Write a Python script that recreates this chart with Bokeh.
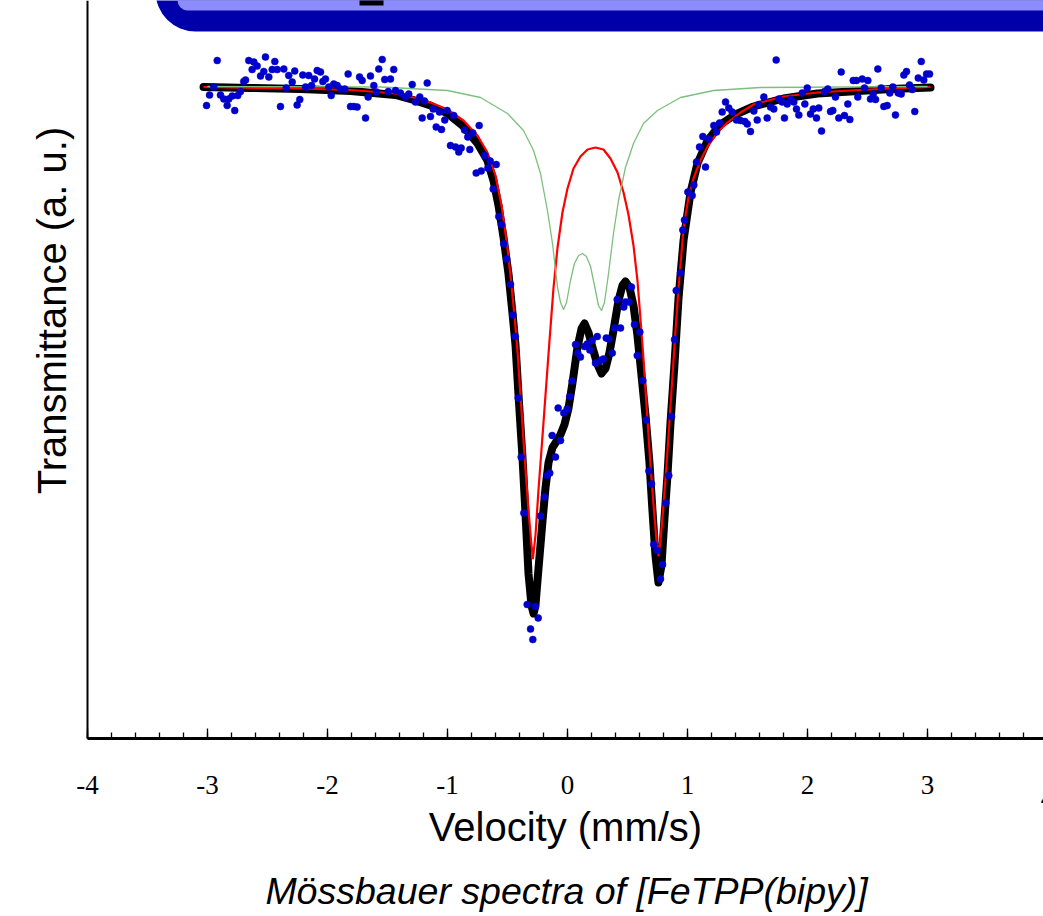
from bokeh.plotting import figure
from bokeh.models import Range1d, FixedTicker, Label, BoxAnnotation
from bokeh.embed import file_html
from bokeh.resources import INLINE

# ---- measured spectrum (velocity in mm/s, relative transmittance in %) ----
vel = [-3.008, -2.983, -2.948, -2.919, -2.892, -2.864, -2.836, -2.823, -2.794, -2.773,
       -2.748, -2.725, -2.698, -2.683, -2.656, -2.628, -2.614, -2.586, -2.558, -2.531,
       -2.517, -2.489, -2.461, -2.439, -2.419, -2.392, -2.364, -2.344, -2.323, -2.294,
       -2.273, -2.253, -2.231, -2.206, -2.183, -2.156, -2.133, -2.108, -2.086, -2.058,
       -2.039, -2.017, -1.989, -1.969, -1.948, -1.919, -1.892, -1.856, -1.828, -1.808,
       -1.781, -1.753, -1.733, -1.711, -1.683, -1.661, -1.642, -1.614, -1.592, -1.573,
       -1.544, -1.523, -1.494, -1.475, -1.448, -1.433, -1.392, -1.350, -1.323, -1.294,
       -1.267, -1.231, -1.211, -1.192, -1.169, -1.142, -1.119, -1.094, -1.067, -1.050,
       -1.023, -1.003, -0.975, -0.948, -0.933, -0.906, -0.886, -0.858, -0.831, -0.814,
       -0.789, -0.761, -0.736, -0.719, -0.689, -0.664, -0.644, -0.619, -0.594, -0.573,
       -0.550, -0.531, -0.508, -0.475, -0.456, -0.436, -0.411, -0.386, -0.364, -0.336,
       -0.308, -0.289, -0.267, -0.244, -0.225, -0.192, -0.169, -0.148, -0.128, -0.100,
       -0.078, -0.058, -0.031, -0.003, 0.019, 0.039, 0.067, 0.086, 0.108, 0.142,
       0.164, 0.186, 0.206, 0.233, 0.248, 0.275, 0.298, 0.323, 0.344, 0.373,
       0.392, 0.442, 0.414, 0.469, 0.483, 0.511, 0.533, 0.558, 0.581, 0.603,
       0.628, 0.656, 0.678, 0.700, 0.719, 0.748, 0.775, 0.792, 0.819, 0.844,
       0.867, 0.892, 0.906, 0.942, 0.961, 0.975, 1.003, 1.039, 1.053, 1.075,
       1.100, 1.128, 1.150, 1.178, 1.219, 1.242, 1.267, 1.289, 1.317, 1.344,
       1.372, 1.408, 1.442, 1.478, 1.498, 1.525, 1.553, 1.581, 1.594, 1.636,
       1.664, 1.692, 1.719, 1.739, 1.761, 1.789, 1.808, 1.831, 1.858, 1.886,
       1.908, 1.928, 1.956, 1.978, 1.998, 2.025, 2.048, 2.075, 2.094, 2.117,
       2.142, 2.169, 2.192, 2.211, 2.233, 2.261, 2.281, 2.308, 2.336, 2.353,
       2.381, 2.408, 2.419, 2.456, 2.475, 2.503, 2.525, 2.548, 2.567, 2.586,
       2.614, 2.636, 2.664, 2.686, 2.711, 2.733, 2.756, 2.781, 2.803, 2.825,
       2.850, 2.873, 2.894, 2.923, 2.948, 2.969, 2.992, 3.017]
trans = [99.64, 99.85, 100.01, 100.54, 99.85, 99.77, 99.64, 99.77, 99.83, 99.54,
         99.84, 99.92, 100.12, 100.15, 100.54, 100.36, 100.51, 100.43, 100.23, 100.32,
         100.61, 100.21, 100.36, 100.52, 100.36, 99.62, 100.37, 99.99, 100.24, 100.11,
         100.33, 99.65, 99.76, 100.25, 100.01, 100.24, 100.04, 100.17, 100.34, 100.31,
         100.12, 100.17, 100.01, 99.84, 100.07, 100.04, 99.97, 99.97, 100.27, 99.62,
         99.62, 99.61, 100.21, 100.14, 99.39, 99.81, 100.23, 100.04, 99.91, 100.37,
         100.56, 100.16, 99.92, 100.17, 100.36, 99.94, 99.89, 99.81, 99.87, 100.06,
         99.71, 99.81, 99.39, 99.73, 100.09, 99.42, 99.57, 99.21, 99.51, 99.16,
         99.35, 99.54, 98.84, 99.44, 98.81, 98.71, 98.79, 99.15, 99.01, 98.76,
         99.09, 98.29, 99.24, 98.33, 98.64, 98.39, 98.53, 97.97, 98.46, 97.42,
         97.26, 96.87, 96.57, 96.06, 95.45, 95.02, 93.79, 92.61, 91.49, 89.66,
         89.17, 88.96, 89.62, 89.39, 91.43, 91.81, 92.24, 92.29, 93.04, 92.61,
         93.59, 92.94, 93.49, 93.57, 93.82, 94.13, 94.86, 94.69, 94.61, 94.82,
         94.87, 94.75, 94.94, 94.49, 95.02, 94.54, 94.57, 94.99, 94.97, 94.69,
         95.19, 95.19, 95.76, 95.61, 95.71, 95.71, 96.01, 95.26, 94.64, 95.11,
         94.14, 93.35, 92.33, 92.07, 90.86, 90.74, 90.17, 90.46, 91.69, 92.24,
         93.42, 94.96, 95.94, 96.29, 97.15, 97.35, 97.91, 97.84, 98.05, 98.51,
         98.81, 99.02, 98.41, 98.97, 99.24, 99.11, 99.29, 99.51, 99.71, 99.59,
         99.51, 99.35, 99.34, 99.32, 99.27, 99.12, 99.53, 99.35, 99.66, 99.81,
         99.39, 99.61, 99.57, 100.55, 99.77, 99.71, 99.39, 99.67, 99.76, 99.71,
         99.57, 99.45, 99.89, 99.67, 99.99, 99.47, 99.57, 99.39, 99.59, 99.13,
         99.92, 99.97, 99.52, 99.54, 99.81, 99.39, 100.31, 99.44, 99.67, 99.36,
         100.14, 100.14, 99.81, 100.17, 99.99, 100.14, 99.77, 99.87, 99.76, 100.37,
         99.99, 99.62, 99.64, 99.89, 100.01, 99.45, 99.89, 99.87, 100.25, 100.32,
         100.05, 99.96, 99.52, 100.19, 100.52, 100.15, 100.27, 100.27]

# ---- total fit (black) ----
fit_v = [-3.033, -2.642, -2.225, -1.808, -1.433, -1.283, -1.142, -1.000, -0.867, -0.750,
         -0.667, -0.617, -0.575, -0.533, -0.492, -0.458, -0.433, -0.408, -0.375, -0.350,
         -0.325, -0.300, -0.283, -0.267, -0.250, -0.208, -0.183, -0.158, -0.125, -0.092,
         -0.058, -0.025, 0.008, 0.042, 0.083, 0.117, 0.142, 0.175, 0.208, 0.250,
         0.283, 0.317, 0.350, 0.383, 0.425, 0.458, 0.483, 0.517, 0.550, 0.583,
         0.617, 0.650, 0.683, 0.708, 0.733, 0.758, 0.783, 0.808, 0.833, 0.858,
         0.892, 0.925, 0.967, 1.025, 1.083, 1.167, 1.275, 1.400, 1.550, 1.800,
         2.083, 2.358, 2.692, 3.025]
fit_t = [100.01, 99.99, 99.97, 99.93, 99.85, 99.75, 99.64, 99.48, 99.22, 98.88,
         98.54, 98.14, 97.64, 97.00, 96.28, 95.48, 94.84, 93.84, 92.60, 91.48,
         90.28, 89.64, 89.48, 89.64, 90.14, 91.34, 92.00, 92.50, 92.80, 92.92,
         93.06, 93.26, 93.58, 94.10, 94.80, 95.18, 95.28, 95.10, 94.80, 94.46,
         94.28, 94.38, 94.70, 95.14, 95.74, 96.04, 96.12, 96.00, 95.64, 95.04,
         94.24, 93.44, 92.50, 91.54, 90.64, 90.10, 90.44, 91.38, 92.24, 93.28,
         94.48, 95.78, 96.94, 97.90, 98.48, 98.94, 99.26, 99.46, 99.62, 99.78,
         99.88, 99.92, 99.97, 100.00]

# ---- main doublet component (red) ----
red_v = [-3.033, -2.225, -1.808, -1.433, -1.283, -1.142, -1.000, -0.867, -0.750, -0.667,
         -0.600, -0.550, -0.508, -0.475, -0.442, -0.417, -0.392, -0.358, -0.325, -0.300,
         -0.288, -0.267, -0.242, -0.200, -0.158, -0.117, -0.083, -0.042, 0.000, 0.050,
         0.108, 0.167, 0.233, 0.300, 0.358, 0.417, 0.467, 0.508, 0.550, 0.583,
         0.608, 0.633, 0.667, 0.692, 0.717, 0.742, 0.758, 0.775, 0.800, 0.825,
         0.850, 0.875, 0.900, 0.925, 0.967, 1.008, 1.050, 1.108, 1.167, 1.250,
         1.333, 1.442, 1.550, 1.800, 2.083, 2.358, 2.692, 3.025]
red_t = [100.01, 99.98, 99.95, 99.88, 99.80, 99.70, 99.56, 99.34, 99.04, 98.70,
         98.24, 97.64, 96.94, 96.24, 95.44, 94.74, 93.84, 92.64, 91.54, 90.84,
         90.58, 91.04, 91.94, 93.30, 94.68, 95.98, 96.80, 97.50, 97.98, 98.38,
         98.62, 98.76, 98.80, 98.76, 98.58, 98.30, 97.90, 97.46, 96.84, 96.14,
         95.38, 94.58, 93.34, 92.44, 91.64, 90.94, 90.64, 90.94, 91.64, 92.44,
         93.34, 94.24, 95.14, 95.98, 97.18, 97.80, 98.18, 98.54, 98.82, 99.10,
         99.30, 99.50, 99.66, 99.82, 99.90, 99.94, 99.98, 100.01]

# ---- minor doublet component (green) ----
green_v = [-3.000, -1.558, -1.000, -0.725, -0.500, -0.367, -0.283, -0.225, -0.167, -0.125,
           -0.083, -0.058, -0.033, -0.008, 0.025, 0.058, 0.092, 0.125, 0.158, 0.192,
           0.225, 0.258, 0.283, 0.308, 0.342, 0.383, 0.425, 0.483, 0.550, 0.633,
           0.750, 0.942, 1.217, 1.608, 3.000]
green_t = [100.02, 100.01, 99.94, 99.80, 99.48, 99.14, 98.74, 98.28, 97.54, 96.88,
           96.00, 95.70, 95.56, 95.70, 96.14, 96.48, 96.64, 96.68, 96.62, 96.42,
           96.04, 95.64, 95.54, 95.70, 96.28, 97.08, 97.74, 98.40, 98.88, 99.28,
           99.54, 99.80, 99.94, 100.00, 100.02]

major_ticks = [-4, -3, -2, -1, 0, 1, 2, 3, 4]
major_labels = ["-4", "-3", "-2", "-1", "0", "1", "2", "3", "4"]
minor_ticks = [-4.0, -3.8, -3.6, -3.4, -3.2, -3.0, -2.8, -2.6, -2.4, -2.2, -2.0,
               -1.8, -1.6, -1.4, -1.2, -1.0, -0.8, -0.6, -0.4, -0.2, 0.0,
               0.2, 0.4, 0.6, 0.8, 1.0, 1.2, 1.4, 1.6, 1.8, 2.0,
               2.2, 2.4, 2.6, 2.8, 3.0, 3.2, 3.4, 3.6, 3.8, 4.0]

# frame = whole canvas; axes sit at fixed locations inside it
T_AXIS = 86.98   # transmittance at the horizontal axis line
p = figure(width=1043, height=916,
           x_range=Range1d(-4.725, 3.9667), y_range=Range1d(83.42, 101.74),
           output_backend="svg", toolbar_location=None,
           min_border_left=0, min_border_right=0, min_border_top=0, min_border_bottom=0)
p.background_fill_color = "white"
p.border_fill_color = "white"
p.outline_line_color = None
p.grid.visible = False

# x axis
xa = p.xaxis[0]
xa.fixed_location = T_AXIS
xa.bounds = (-4.0, 4.0)
xa.ticker = FixedTicker(ticks=major_ticks, minor_ticks=minor_ticks)
xa.major_label_overrides = {t: s for t, s in zip(major_ticks, major_labels)}
xa.axis_line_width = 3
xa.axis_line_color = "black"
xa.major_tick_in = 10
xa.major_tick_out = 0
xa.minor_tick_in = 6
xa.minor_tick_out = 0
xa.major_tick_line_width = 1.3
xa.minor_tick_line_width = 1.3
xa.major_tick_line_color = "black"
xa.minor_tick_line_color = "black"
xa.major_label_text_font = "Liberation Serif"
xa.major_label_text_font_size = "27px"
xa.major_label_text_color = "black"
xa.major_label_standoff = 37

# y axis: line only
ya = p.yaxis[0]
ya.fixed_location = -4.0
ya.bounds = (T_AXIS, 103.0)
ya.ticker = FixedTicker(ticks=[])
ya.axis_line_width = 2
ya.axis_line_color = "black"
ya.major_tick_line_color = None
ya.minor_tick_line_color = None
ya.major_label_text_font_size = "0px"

# banner fragment at the top
p.add_layout(BoxAnnotation(left=-3.433, right=6.0, bottom=101.12, top=102.5,
                           fill_color="#0000AA", fill_alpha=1.0, line_color=None,
                           border_radius=dict(top_left=0, top_right=0, bottom_right=0, bottom_left=40)))
p.add_layout(BoxAnnotation(left=-3.25, right=6.0, bottom=101.54, top=102.5,
                           fill_color="#8C8CFF", fill_alpha=1.0, line_color=None,
                           border_radius=dict(top_left=0, top_right=0, bottom_right=0, bottom_left=10)))
p.add_layout(BoxAnnotation(left=-1.733, right=-1.533, bottom=101.64, top=102.5,
                           fill_color="black", fill_alpha=1.0, line_color=None))

p.line(fit_v, fit_t, line_width=8, line_color="black", line_join="round", line_cap="round")
p.line(red_v, red_t, line_width=2.2, line_color="#FF0000", line_join="round")
p.line(green_v, green_t, line_width=1.3, line_color="#7DBF7D", line_join="round")
p.scatter(vel, trans, size=7, fill_color="#0000CC", line_color="#0000CC", line_width=0.5)

sans = "Liberation Sans"
p.add_layout(Label(x=4.0, y=85.80, text="4", text_align="center", text_baseline="alphabetic",
                   text_font="Liberation Serif", text_font_size="27px", text_color="black"))
p.add_layout(Label(x=-0.017, y=85.22, text="Velocity (mm/s)", text_align="center",
                   text_baseline="alphabetic", text_font=sans, text_font_size="40px",
                   text_color="black"))
p.add_layout(Label(x=-0.008, y=83.93, text="Mössbauer spectra of [FeTPP(bipy)]",
                   text_align="center", text_baseline="alphabetic", text_font=sans,
                   text_font_size="37.5px", text_font_style="italic", text_color="black"))
p.add_layout(Label(x=-4.292, y=95.54, text="Transmittance (a. u.)", angle=90, angle_units="deg",
                   text_align="center", text_baseline="alphabetic", text_font=sans,
                   text_font_size="40px", text_color="black"))

open("out.html", "w").write(file_html(p, INLINE))
